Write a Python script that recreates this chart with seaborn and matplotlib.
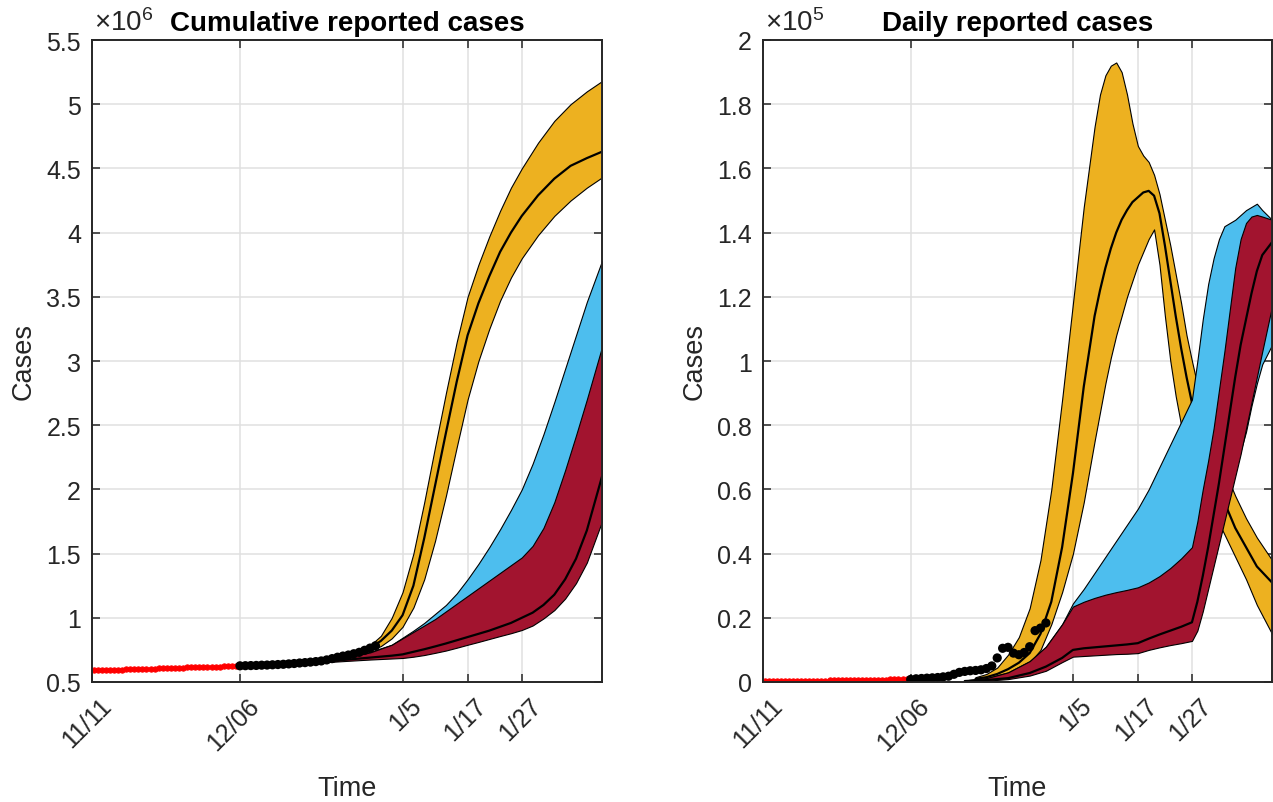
import numpy as np
import matplotlib
matplotlib.use("Agg")
import matplotlib.pyplot as plt
import matplotlib.transforms as mtransforms
import seaborn as sns

# ---------------- data ----------------
tick_days = [-27.3, 0, 30, 42, 52]
tick_labels = ["11/11", "12/06", "1/5", "1/17", "1/27"]
x_start, x_end = -27.3, 66.8

# pre-fitting period (red dots)
pre_days = np.arange(-27.0, 0.01, 0.75)
pre_cum = [0.590, 0.591, 0.592, 0.593, 0.594, 0.595, 0.596, 0.597, 0.598, 0.599,
           0.600, 0.601, 0.602, 0.603, 0.604, 0.605, 0.606, 0.607, 0.608, 0.609,
           0.610, 0.611, 0.612, 0.613, 0.614, 0.615, 0.616, 0.617, 0.618, 0.619,
           0.619, 0.620, 0.621, 0.622, 0.623, 0.623, 0.624]
pre_daily = [0.002, 0.002, 0.002, 0.002, 0.003, 0.003, 0.003, 0.003, 0.003, 0.003,
             0.004, 0.004, 0.004, 0.004, 0.004, 0.004, 0.005, 0.005, 0.005, 0.005,
             0.005, 0.005, 0.006, 0.006, 0.006, 0.006, 0.006, 0.007, 0.007, 0.007,
             0.007, 0.008, 0.008, 0.008, 0.009, 0.009, 0.010]

# observed data (black dots)
obs_days = list(range(26))
obs_cum = [0.626, 0.627, 0.628, 0.629, 0.631, 0.632, 0.634, 0.636, 0.638, 0.641,
           0.644, 0.648, 0.651, 0.655, 0.659, 0.664, 0.672, 0.682, 0.693, 0.702,
           0.710, 0.720, 0.731, 0.747, 0.764, 0.782]
obs_daily = [0.008, 0.010, 0.011, 0.012, 0.013, 0.014, 0.016, 0.018, 0.024, 0.030,
             0.033, 0.035, 0.036, 0.038, 0.042, 0.050, 0.075, 0.105, 0.108, 0.090,
             0.085, 0.092, 0.110, 0.160, 0.168, 0.184]

# cumulative bands (x 10^6)
cum_days_y = [0, 5, 10, 15, 20, 22, 24, 26, 28, 30, 32, 34, 36, 38, 40, 42, 44, 46,
              48, 50, 52, 55, 58, 61, 64, 66.8]
cum_yellow_hi = [0.625, 0.634, 0.648, 0.672, 0.720, 0.745, 0.785, 0.86, 1.00, 1.20,
                 1.50, 1.90, 2.33, 2.75, 3.15, 3.50, 3.75, 3.97, 4.17, 4.35, 4.50,
                 4.70, 4.87, 5.00, 5.10, 5.18]
cum_yellow_mid = [0.625, 0.634, 0.648, 0.670, 0.716, 0.736, 0.765, 0.82, 0.90, 1.02,
                  1.25, 1.62, 2.03, 2.44, 2.84, 3.20, 3.45, 3.66, 3.85, 4.00, 4.13,
                  4.29, 4.42, 4.52, 4.58, 4.63]
cum_yellow_lo = [0.625, 0.633, 0.646, 0.667, 0.710, 0.725, 0.745, 0.78, 0.84, 0.93,
                 1.08, 1.30, 1.60, 1.95, 2.33, 2.70, 3.00, 3.25, 3.47, 3.65, 3.80,
                 3.98, 4.13, 4.25, 4.35, 4.43]

cum_days_rb = [0, 5, 10, 15, 20, 24, 28, 30, 32, 34, 36, 38, 40, 42, 44, 46, 48, 50,
               52, 54, 56, 58, 60, 62, 64, 66.8]
cum_blue_hi = [0.625, 0.634, 0.648, 0.668, 0.697, 0.735, 0.79, 0.845, 0.90, 0.96,
               1.03, 1.10, 1.19, 1.30, 1.42, 1.55, 1.69, 1.84, 2.00, 2.20, 2.43,
               2.68, 2.94, 3.20, 3.46, 3.78]
cum_blue_lo = [0.625, 0.632, 0.645, 0.660, 0.680, 0.700, 0.720, 0.740, 0.770, 0.800,
               0.830, 0.870, 0.900, 0.940, 0.980, 1.02, 1.07, 1.12, 1.18, 1.26, 1.36,
               1.50, 1.68, 1.88, 2.10, 2.40]
cum_red_hi = [0.625, 0.634, 0.648, 0.668, 0.695, 0.730, 0.79, 0.84, 0.89, 0.94, 0.99,
              1.05, 1.11, 1.17, 1.23, 1.29, 1.35, 1.41, 1.47, 1.56, 1.70, 1.90, 2.15,
              2.42, 2.70, 3.11]
cum_red_mid = [0.625, 0.633, 0.645, 0.658, 0.675, 0.690, 0.705, 0.715, 0.735, 0.755,
               0.777, 0.800, 0.825, 0.850, 0.875, 0.900, 0.930, 0.960, 1.00, 1.04,
               1.10, 1.18, 1.30, 1.46, 1.68, 2.10]
cum_red_lo = [0.625, 0.632, 0.642, 0.652, 0.665, 0.675, 0.683, 0.687, 0.697, 0.710,
              0.727, 0.745, 0.767, 0.790, 0.812, 0.835, 0.858, 0.880, 0.905, 0.940,
              0.995, 1.06, 1.15, 1.27, 1.43, 1.75]

# daily bands (x 10^5)
day_days_y = [12, 14, 16, 18, 20, 22, 24, 26, 28, 30, 32, 34, 35, 36, 37, 38, 39, 40,
              41, 42, 43, 44, 45, 46, 47, 48, 49, 50, 51, 52, 54, 56, 58, 60, 62, 64,
              66.8]
day_yellow_hi = [0.015, 0.025, 0.045, 0.085, 0.14, 0.23, 0.38, 0.60, 0.88, 1.18, 1.48,
                 1.73, 1.83, 1.89, 1.92, 1.93, 1.90, 1.83, 1.74, 1.67, 1.64, 1.62,
                 1.58, 1.52, 1.44, 1.36, 1.27, 1.18, 1.08, 1.00, 0.85, 0.74, 0.66,
                 0.58, 0.51, 0.45, 0.38]
day_yellow_mid = [0.010, 0.015, 0.025, 0.040, 0.060, 0.090, 0.15, 0.25, 0.42, 0.65,
                  0.92, 1.14, 1.22, 1.29, 1.35, 1.40, 1.44, 1.47, 1.495, 1.51, 1.525,
                  1.53, 1.515, 1.46, 1.36, 1.25, 1.14, 1.04, 0.95, 0.87, 0.75, 0.65,
                  0.56, 0.48, 0.42, 0.36, 0.31]
day_yellow_lo = [0.005, 0.010, 0.015, 0.025, 0.040, 0.060, 0.10, 0.18, 0.28, 0.40,
                 0.56, 0.75, 0.84, 0.93, 1.01, 1.08, 1.14, 1.20, 1.25, 1.30, 1.34,
                 1.38, 1.41, 1.30, 1.14, 1.00, 0.89, 0.80, 0.73, 0.68, 0.60, 0.53,
                 0.46, 0.39, 0.32, 0.24, 0.15]

day_days_rb = [10, 14, 18, 22, 25, 28, 30, 32, 34, 36, 38, 40, 42, 44, 46, 48, 50, 52,
               53, 54, 55, 56, 57, 58, 59, 60, 61, 62, 63, 64, 65, 66.8]
day_blue_hi = [0.005, 0.012, 0.030, 0.065, 0.11, 0.18, 0.245, 0.29, 0.34, 0.39, 0.44,
               0.49, 0.54, 0.60, 0.67, 0.74, 0.81, 0.88, 1.00, 1.13, 1.24, 1.32, 1.38,
               1.42, 1.43, 1.44, 1.455, 1.47, 1.48, 1.49, 1.47, 1.44]
day_blue_lo = [0.004, 0.010, 0.025, 0.055, 0.09, 0.15, 0.20, 0.23, 0.25, 0.26, 0.27,
               0.275, 0.28, 0.29, 0.30, 0.31, 0.32, 0.33, 0.35, 0.38, 0.42, 0.47, 0.52,
               0.57, 0.62, 0.67, 0.72, 0.78, 0.86, 0.93, 0.99, 1.05]
day_red_hi = [0.005, 0.012, 0.030, 0.065, 0.11, 0.18, 0.235, 0.25, 0.262, 0.272, 0.28,
              0.287, 0.295, 0.31, 0.33, 0.355, 0.385, 0.42, 0.50, 0.60, 0.69, 0.79,
              0.91, 1.03, 1.16, 1.29, 1.38, 1.43, 1.45, 1.455, 1.45, 1.44]
day_red_mid = [0.003, 0.006, 0.012, 0.028, 0.048, 0.075, 0.10, 0.105, 0.108, 0.111,
               0.114, 0.117, 0.121, 0.135, 0.148, 0.16, 0.172, 0.186, 0.25, 0.33, 0.42,
               0.52, 0.62, 0.73, 0.84, 0.95, 1.05, 1.13, 1.21, 1.28, 1.33, 1.37]
day_red_lo = [0.002, 0.004, 0.009, 0.020, 0.035, 0.062, 0.079, 0.081, 0.083, 0.085,
              0.087, 0.088, 0.090, 0.100, 0.108, 0.115, 0.121, 0.128, 0.16, 0.22, 0.29,
              0.36, 0.43, 0.50, 0.57, 0.64, 0.71, 0.79, 0.87, 0.95, 1.03, 1.17]

cum_yticks = [0.5, 1, 1.5, 2, 2.5, 3, 3.5, 4, 4.5, 5, 5.5]
cum_ylabels = ["0.5", "1", "1.5", "2", "2.5", "3", "3.5", "4", "4.5", "5", "5.5"]
day_yticks = [0, 0.2, 0.4, 0.6, 0.8, 1.0, 1.2, 1.4, 1.6, 1.8, 2.0]
day_ylabels = ["0", "0.2", "0.4", "0.6", "0.8", "1", "1.2", "1.4", "1.6", "1.8", "2"]

# ---------------- style ----------------
sns.set_theme(style="ticks")
plt.rcParams["font.family"] = ["Liberation Sans", "DejaVu Sans"]
plt.rcParams["mathtext.fontset"] = "custom"
plt.rcParams["mathtext.rm"] = "Liberation Sans"
plt.rcParams["mathtext.it"] = "Liberation Sans"

COL_Y = "#EDB120"
COL_B = "#4DBEEE"
COL_R = "#A2142F"
TXT = "#262626"

fig = plt.figure(figsize=(12.73, 8.03), dpi=100)
ax1 = fig.add_axes([92 / 1273, 120 / 803, 510 / 1273, 642 / 803])
ax2 = fig.add_axes([763 / 1273, 120 / 803, 509 / 1273, 642 / 803])


def band(ax, x, lo, hi, color, z):
    ax.fill_between(x, lo, hi, facecolor=color, edgecolor="black",
                    linewidth=0.8, zorder=z)


def median(ax, x, y, z):
    sns.lineplot(x=x, y=y, ax=ax, color="black", linewidth=1.6, zorder=z,
                 sort=False, legend=False)


def dots(ax, pre_y, obs_y):
    sns.lineplot(x=pre_days, y=pre_y, ax=ax, color="red", linewidth=1.2,
                 marker="o", markersize=3.8, markeredgecolor="red", zorder=9,
                 sort=False, legend=False)
    sns.scatterplot(x=obs_days, y=obs_y, ax=ax, color="black", s=44,
                    edgecolor="none", zorder=10, legend=False)


def style(ax, ylim, yticks, ylabels, title, exp):
    ax.set_xlim(x_start, x_end)
    ax.set_ylim(*ylim)
    ax.set_xticks(tick_days)
    ax.set_yticks(yticks)
    ax.set_yticklabels(ylabels)
    ax.grid(True, color="#e0e0e0", linewidth=1.1)
    ax.set_axisbelow(True)
    ax.tick_params(direction="in", top=True, right=True, length=6, width=1.1,
                   colors=TXT, labelsize=18, pad=8)
    ax.tick_params(axis="x", pad=14)
    ax.set_xticklabels(tick_labels, rotation=45, ha="right", va="center",
                       rotation_mode="anchor")
    shift = mtransforms.ScaledTranslation(11 / 72, 0, fig.dpi_scale_trans)
    for lab in ax.get_xticklabels():
        lab.set_transform(lab.get_transform() + shift)
    for s in ax.spines.values():
        s.set_visible(True)
        s.set_color(TXT)
        s.set_linewidth(1.4)
        s.set_zorder(20)
    ax.set_title(title, fontsize=20, fontweight="bold", color="black", pad=7)
    ax.set_xlabel("Time", fontsize=19.5, color=TXT, labelpad=15)
    ax.set_ylabel("Cases", fontsize=19.5, color=TXT, labelpad=7)
    ax.text(0.003, 1.006, r"$\times 10^{%d}$" % exp, transform=ax.transAxes,
            ha="left", va="bottom", fontsize=20, color=TXT)


# left: cumulative
band(ax1, cum_days_y, cum_yellow_lo, cum_yellow_hi, COL_Y, 2)
median(ax1, cum_days_y, cum_yellow_mid, 3)
band(ax1, cum_days_rb, cum_blue_lo, cum_blue_hi, COL_B, 4)
band(ax1, cum_days_rb, cum_red_lo, cum_red_hi, COL_R, 5)
median(ax1, cum_days_rb, cum_red_mid, 6)
dots(ax1, pre_cum, obs_cum)
style(ax1, (0.5, 5.5), cum_yticks, cum_ylabels, "Cumulative reported cases", 6)

# right: daily
band(ax2, day_days_y, day_yellow_lo, day_yellow_hi, COL_Y, 2)
median(ax2, day_days_y, day_yellow_mid, 3)
band(ax2, day_days_rb, day_blue_lo, day_blue_hi, COL_B, 4)
band(ax2, day_days_rb, day_red_lo, day_red_hi, COL_R, 5)
median(ax2, day_days_rb, day_red_mid, 6)
dots(ax2, pre_daily, obs_daily)
style(ax2, (0, 2), day_yticks, day_ylabels, "Daily reported cases", 5)

fig.savefig("out.png", dpi=100)
